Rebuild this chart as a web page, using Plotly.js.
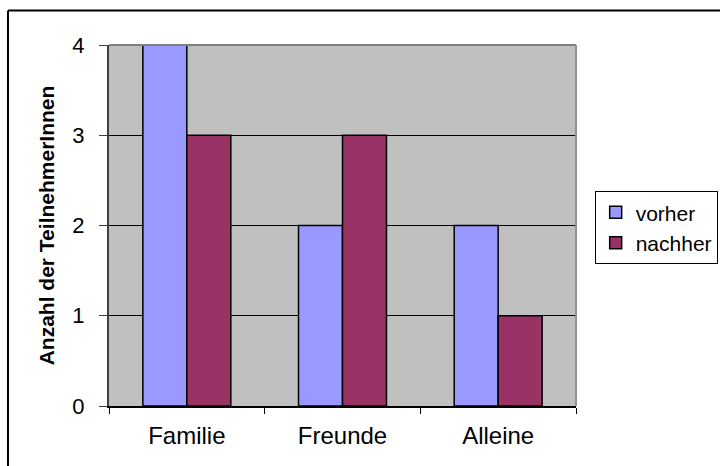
<!DOCTYPE html>
<html>
<head>
<meta charset="utf-8">
<script src="https://cdn.plot.ly/plotly-3.0.1.min.js"></script>
<style>
  html, body { margin: 0; padding: 0; background: #ffffff; overflow: hidden; }
  #chart { width: 720px; height: 466px; }
</style>
</head>
<body>
<div id="chart"></div>
<script>
// Gruppen und Anzahl der Teilnehmerinnen vorher / nachher
const categories = ["Familie", "Freunde", "Alleine"];
const vorher = [4, 2, 2];
const nachher = [3, 3, 1];
const seriesNames = ["vorher", "nachher"];
const yTicks = [0, 1, 2, 3, 4];

const FONT = "Liberation Sans, Arial, sans-serif";

const traces = [
  {
    type: "bar",
    name: seriesNames[0],
    x: categories,
    y: vorher,
    marker: { color: "#9999FF", line: { color: "#000000", width: 1.5 } },
    hoverinfo: "x+y+name"
  },
  {
    type: "bar",
    name: seriesNames[1],
    x: categories,
    y: nachher,
    marker: { color: "#993366", line: { color: "#000000", width: 1.5 } },
    hoverinfo: "x+y+name"
  }
];

const layout = {
  width: 720,
  height: 466,
  margin: { l: 109, r: 144, t: 45, b: 60, pad: 0, autoexpand: false },
  paper_bgcolor: "#ffffff",
  plot_bgcolor: "#C0C0C0",
  font: { family: FONT, color: "#000000", size: 22 },
  barmode: "group",
  bargap: 0.435,
  bargroupgap: 0,
  showlegend: true,
  legend: {
    x: 1.04, xanchor: "left",
    y: 0.595, yanchor: "top",
    bgcolor: "#ffffff",
    bordercolor: "#000000",
    borderwidth: 1,
    font: { family: FONT, size: 21, color: "#000000" },
    itemwidth: 30,
    tracegroupgap: 0
  },
  xaxis: {
    type: "category",
    tickson: "boundaries",
    ticks: "outside",
    ticklen: 6,
    tickwidth: 1,
    tickcolor: "#000000",
    ticklabelstandoff: 8,
    showline: true,
    linecolor: "#000000",
    linewidth: 1.5,
    showgrid: false,
    zeroline: false,
    tickfont: { family: FONT, size: 24, color: "#000000" },
    fixedrange: true
  },
  yaxis: {
    range: [0, 4],
    tickvals: yTicks,
    ticktext: yTicks.map(String),
    ticks: "outside",
    ticklen: 8,
    tickwidth: 1,
    tickcolor: "#404040",
    ticklabelstandoff: 10,
    showline: true,
    linecolor: "#404040",
    linewidth: 2,
    showgrid: true,
    gridcolor: "#000000",
    gridwidth: 1,
    zeroline: false,
    tickfont: { family: FONT, size: 22, color: "#000000" },
    title: {
      text: "<b>Anzahl der TeilnehmerInnen</b>",
      font: { family: FONT, size: 21, color: "#000000" },
      standoff: 12
    },
    automargin: false,
    fixedrange: true
  },
  shapes: [
    // Rahmen des Diagrammbereichs (oben und rechts grau)
    {
      type: "line", xref: "paper", yref: "paper",
      x0: 0, x1: 1, y0: 1, y1: 1,
      line: { color: "#808080", width: 2 }
    },
    {
      type: "line", xref: "paper", yref: "paper",
      x0: 1, x1: 1, y0: 0, y1: 1,
      line: { color: "#909090", width: 2 }
    },
    // äußerer Rahmen des Diagramms: nur oben und links sichtbar
    {
      type: "line", xref: "paper", yref: "paper",
      x0: -0.2163, x1: 1.4, y0: 1.0956, y1: 1.0956,
      line: { color: "#000000", width: 2 },
      layer: "above"
    },
    {
      type: "line", xref: "paper", yref: "paper",
      x0: -0.2163, x1: -0.2163, y0: -0.3, y1: 1.0956,
      line: { color: "#000000", width: 2 },
      layer: "above"
    }
  ]
};

Plotly.newPlot("chart", traces, layout, { displayModeBar: false, staticPlot: true });
</script>
</body>
</html>
